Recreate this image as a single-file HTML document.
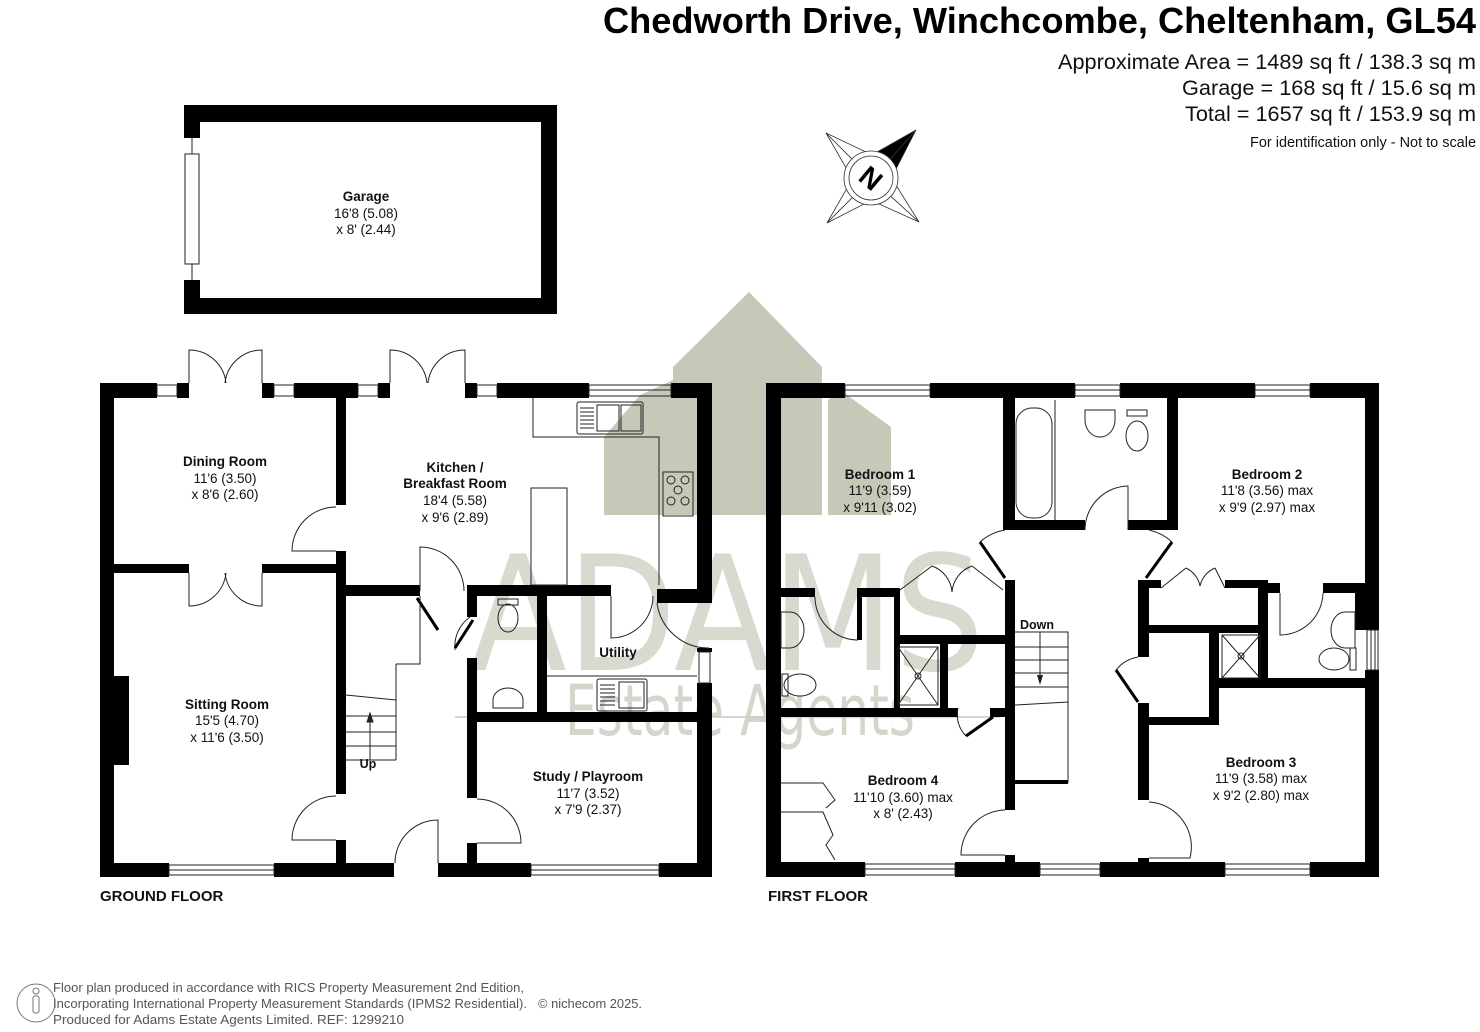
<!DOCTYPE html>
<html><head><meta charset="utf-8"><style>
html,body{margin:0;padding:0;background:#fff;width:1480px;height:1032px;overflow:hidden}
svg{display:block}
text{font-family:"Liberation Sans",Arial,sans-serif}
.l{font-size:13.5px;font-weight:bold;fill:#111;text-anchor:middle}
.d{font-size:13.5px;fill:#111;text-anchor:middle}
.t{fill:none;stroke:#222;stroke-width:1}
</style></head><body>
<svg width="1480" height="1032" viewBox="0 0 1480 1032" xmlns="http://www.w3.org/2000/svg">
<!-- watermark -->
<g fill="#c7c9b8">
<polygon points="673,515 673,367 749,292 822,367 822,515"/>
<polygon points="604,515 604,437 640,395 673,380 673,515"/>
<polygon points="828,515 828,400 840,390 891,427 891,515"/>
</g>
<text x="727" y="670" text-anchor="middle" textLength="515" lengthAdjust="spacingAndGlyphs" style="font-family:'DejaVu Sans',sans-serif;font-size:160px;fill:#d8dad0">ADAMS</text>
<text x="740" y="735" text-anchor="middle" textLength="350" lengthAdjust="spacingAndGlyphs" style="font-family:'DejaVu Sans',sans-serif;font-size:70px;fill:#d4d6cc">Estate Agents</text>
<line x1="455" y1="717" x2="1000" y2="717" stroke="#c9cbc0" stroke-width="1.5"/>

<!-- header -->
<text x="1476" y="33" text-anchor="end" textLength="873" lengthAdjust="spacingAndGlyphs" style="font-size:36px;font-weight:bold;fill:#000">Chedworth Drive, Winchcombe, Cheltenham, GL54</text>
<text x="1476" y="69" text-anchor="end" textLength="418" lengthAdjust="spacingAndGlyphs" style="font-size:21px;fill:#111">Approximate Area = 1489 sq ft / 138.3 sq m</text>
<text x="1476" y="95" text-anchor="end" textLength="294" lengthAdjust="spacingAndGlyphs" style="font-size:21px;fill:#111">Garage = 168 sq ft / 15.6 sq m</text>
<text x="1476" y="121" text-anchor="end" textLength="291" lengthAdjust="spacingAndGlyphs" style="font-size:21px;fill:#111">Total = 1657 sq ft / 153.9 sq m</text>
<text x="1476" y="147" text-anchor="end" textLength="226" lengthAdjust="spacingAndGlyphs" style="font-size:14.5px;fill:#111">For identification only - Not to scale</text>

<!-- compass -->
<g stroke="#333" stroke-width="0.8" fill="#fff">
<polygon points="826,133 858,165 849,173"/><polygon points="826,133 866,152 858,165"/>
<polygon points="827,223 858,192 850,183"/><polygon points="827,223 866,203 858,192"/>
<polygon points="919,222 885,191 894,182"/><polygon points="919,222 877,203 885,191"/>
<polygon points="916,130 885,165 877,152" fill="#000"/><polygon points="916,130 894,173 885,165" fill="#000"/>
<circle cx="871" cy="178" r="27"/><circle cx="871" cy="178" r="22"/>
</g>
<text x="871" y="188" text-anchor="middle" transform="rotate(40 871 178)" style="font-size:28px;font-weight:bold;fill:#000">N</text>

<!-- garage -->
<g fill="#000">
<rect x="184" y="105" width="373" height="17"/><rect x="184" y="298" width="373" height="16"/>
<rect x="541" y="105" width="16" height="209"/>
<rect x="184" y="105" width="16" height="33"/><rect x="184" y="280" width="16" height="34"/>
</g>
<line x1="192" y1="138" x2="192" y2="154" stroke="#222"/><line x1="192" y1="264" x2="192" y2="280" stroke="#222"/>
<rect x="185" y="154" width="14" height="110" class="t"/>
<text x="366" y="201" class="l">Garage</text>
<text x="366" y="218" class="d">16'8 (5.08)</text>
<text x="366" y="234" class="d">x 8' (2.44)</text>

<!-- GROUND FLOOR walls -->
<g fill="#000">
<rect x="100" y="383" width="57" height="15"/><rect x="177" y="383" width="12" height="15"/>
<rect x="262" y="383" width="12" height="15"/><rect x="294" y="383" width="64" height="15"/>
<rect x="378" y="383" width="12" height="15"/><rect x="465" y="383" width="12" height="15"/>
<rect x="497" y="383" width="92" height="15"/><rect x="671" y="383" width="41" height="15"/>
<rect x="100" y="383" width="14" height="494"/>
<rect x="697" y="383" width="15" height="220"/><rect x="697" y="648" width="15" height="4"/><rect x="697" y="683" width="15" height="194"/>
<rect x="100" y="863" width="69" height="14"/><rect x="274" y="863" width="120" height="14"/>
<rect x="438" y="863" width="93" height="14"/><rect x="659" y="863" width="53" height="14"/>
<rect x="336" y="398" width="10" height="107"/><rect x="336" y="551" width="10" height="243"/><rect x="336" y="840" width="10" height="23"/>
<rect x="114" y="564" width="75" height="9"/><rect x="262" y="564" width="74" height="9"/>
<rect x="346" y="585" width="74" height="11"/><rect x="467" y="585" width="144" height="11"/><rect x="657" y="589" width="55" height="14"/>
<rect x="467" y="585" width="10" height="32"/><rect x="467" y="658" width="10" height="140"/><rect x="467" y="843" width="10" height="20"/>
<rect x="537" y="585" width="10" height="130"/>
<rect x="467" y="712" width="245" height="10"/>
<rect x="114" y="676" width="15" height="89"/>
</g>
<!-- ground windows -->
<g class="t">
<rect x="157" y="385" width="20" height="11"/><rect x="274" y="385" width="20" height="11"/>
<rect x="358" y="385" width="20" height="11"/><rect x="477" y="385" width="20" height="11"/>
<rect x="589" y="385" width="82" height="11"/><line x1="589" y1="390" x2="671" y2="390"/>
<rect x="169" y="865" width="105" height="10"/><line x1="169" y1="870" x2="274" y2="870"/>
<rect x="531" y="865" width="128" height="10"/><line x1="531" y1="870" x2="659" y2="870"/>
<rect x="699" y="652" width="11" height="31"/>
</g>
<!-- ground doors -->
<g class="t" stroke-width="1">
<path d="M189,383 V350 A37,37 0 0 1 226,383 M262,383 V350 A37,37 0 0 0 225,383"/>
<path d="M390,383 V350 A37,37 0 0 1 427,383 M465,383 V350 A37,37 0 0 0 428,383"/>
<path d="M189,573 V606 A37,37 0 0 0 226,573 M262,573 V606 A37,37 0 0 1 225,573"/>
<path d="M336,551 H292 A44,44 0 0 1 336,507"/>
<path d="M420,591 V547 A44,44 0 0 1 464,591"/>
<path d="M611,596 V638 A42,42 0 0 0 653,596"/>
<path d="M657,603 A52,52 0 0 0 709,648"/>
<path d="M438,863 V820 A43,43 0 0 0 395,863"/>
<path d="M336,840 H292 A44,44 0 0 1 336,796"/>
<path d="M477,843 H521 A44,44 0 0 0 477,799"/>
<path d="M470,617 A36,36 0 0 0 455,650"/>
</g>
<g stroke="#000" stroke-width="3">
<line x1="455" y1="648" x2="473" y2="620"/><line x1="417" y1="598" x2="438" y2="630"/>
</g>
<!-- stairs ground -->
<g class="t">
<path d="M346,695 L396,700 M346,716 H396 M346,732 H396 M346,746 H396 M346,760 H396 M396,664 V760 M396,664 H420 V596"/>
<line x1="370" y1="760" x2="370" y2="716"/><path d="M367,722 L370,713 L373,722Z" fill="#222"/>
</g>
<text x="368" y="768" class="l" style="font-size:12.5px">Up</text>
<!-- kitchen fittings -->
<g class="t">
<path d="M533,398 V437 H659 V585"/>
<rect x="531" y="488" width="36" height="97"/>
<rect x="577" y="402" width="66" height="32" rx="2"/><rect x="597" y="405" width="22" height="26"/><rect x="621" y="405" width="20" height="26"/>
<path d="M580,408 H594 M580,412 H594 M580,416 H594 M580,420 H594 M580,424 H594 M580,428 H594"/>
<rect x="663" y="472" width="30" height="44"/>
<circle cx="671" cy="480" r="4"/><circle cx="685" cy="480" r="4"/><circle cx="678" cy="490" r="4"/><circle cx="671" cy="501" r="4"/><circle cx="685" cy="501" r="4"/>
<path d="M547,676 H697"/>
<rect x="597" y="679" width="50" height="32" rx="2"/><rect x="619" y="682" width="25" height="26"/>
<path d="M600,685 H615 M600,689 H615 M600,693 H615 M600,697 H615 M600,701 H615 M600,705 H615"/>
<ellipse cx="508" cy="618" rx="10" ry="14"/><rect x="498" y="599" width="20" height="6"/>
<path d="M493,708 V700 A15,12 0 0 1 523,700 V708 Z"/>
</g>
<text x="225" y="466" class="l">Dining Room</text>
<text x="225" y="483" class="d">11'6 (3.50)</text>
<text x="225" y="499" class="d">x 8'6 (2.60)</text>
<text x="455" y="472" class="l">Kitchen /</text>
<text x="455" y="488" class="l">Breakfast Room</text>
<text x="455" y="505" class="d">18'4 (5.58)</text>
<text x="455" y="522" class="d">x 9'6 (2.89)</text>
<text x="227" y="709" class="l">Sitting Room</text>
<text x="227" y="725" class="d">15'5 (4.70)</text>
<text x="227" y="742" class="d">x 11'6 (3.50)</text>
<text x="618" y="657" class="l">Utility</text>
<text x="588" y="781" class="l">Study / Playroom</text>
<text x="588" y="798" class="d">11'7 (3.52)</text>
<text x="588" y="814" class="d">x 7'9 (2.37)</text>
<text x="100" y="901" style="font-size:15px;font-weight:bold;fill:#111">GROUND FLOOR</text>

<!-- FIRST FLOOR walls -->
<g fill="#000">
<rect x="766" y="383" width="79" height="15"/><rect x="930" y="383" width="145" height="15"/>
<rect x="1120" y="383" width="135" height="15"/><rect x="1310" y="383" width="69" height="15"/>
<rect x="766" y="383" width="15" height="494"/>
<rect x="1365" y="383" width="14" height="247"/><rect x="1365" y="670" width="14" height="207"/>
<rect x="1355" y="588" width="12" height="42"/>
<rect x="766" y="862" width="99" height="15"/><rect x="955" y="862" width="85" height="15"/>
<rect x="1100" y="862" width="125" height="15"/><rect x="1310" y="862" width="69" height="15"/>
<rect x="1003" y="398" width="12" height="132"/><rect x="1003" y="520" width="82" height="10"/>
<rect x="1128" y="520" width="50" height="10"/><rect x="1167" y="398" width="11" height="132"/>
<rect x="1005" y="580" width="10" height="230"/><rect x="1005" y="855" width="10" height="22"/>
<rect x="1138" y="580" width="11" height="77"/><rect x="1138" y="703" width="11" height="97"/><rect x="1138" y="858" width="11" height="19"/>
<rect x="781" y="588" width="34" height="9"/><rect x="859" y="588" width="41" height="9"/>
<rect x="857" y="588" width="5" height="52"/>
<rect x="894" y="590" width="6" height="123"/>
<rect x="894" y="635" width="111" height="9"/>
<rect x="940" y="643" width="8" height="74"/>
<rect x="781" y="708" width="177" height="9"/><rect x="990" y="708" width="15" height="9"/>
<rect x="1149" y="580" width="12" height="8"/><rect x="1225" y="580" width="43" height="8"/>
<rect x="1258" y="580" width="10" height="100"/>
<rect x="1258" y="583" width="22" height="10"/><rect x="1323" y="583" width="56" height="10"/>
<rect x="1149" y="625" width="119" height="8"/>
<rect x="1209" y="633" width="10" height="92"/>
<rect x="1209" y="678" width="170" height="10"/>
<rect x="1149" y="717" width="70" height="8"/>
<rect x="1015" y="780" width="53" height="4"/>
</g>
<g class="t">
<rect x="845" y="385" width="85" height="11"/><line x1="845" y1="390" x2="930" y2="390"/>
<rect x="1075" y="385" width="45" height="11"/><line x1="1075" y1="390" x2="1120" y2="390"/>
<rect x="1255" y="385" width="55" height="11"/><line x1="1255" y1="390" x2="1310" y2="390"/>
<rect x="865" y="864" width="90" height="11"/><line x1="865" y1="869" x2="955" y2="869"/>
<rect x="1040" y="864" width="60" height="11"/><line x1="1040" y1="869" x2="1100" y2="869"/>
<rect x="1225" y="864" width="85" height="11"/><line x1="1225" y1="869" x2="1310" y2="869"/>
<rect x="1367" y="630" width="11" height="40"/><path d="M1371,630 V670 M1375,630 V670"/>
<rect x="1016" y="408" width="36" height="110" rx="16"/><line x1="1055" y1="400" x2="1055" y2="520"/>
<path d="M1085,410 H1115 V420 A15,17 0 0 1 1085,420 Z"/>
<ellipse cx="1137" cy="436" rx="11" ry="15"/><rect x="1127" y="410" width="20" height="6"/>
<path d="M1128,530 V486 A44,44 0 0 0 1085,530"/>
<path d="M1005,530 A50,50 0 0 0 980,542"/>
<path d="M1149,530 A50,50 0 0 1 1172,542"/>
<path d="M900,590 L932,566 M972,566 L1003,590 M932,566 A30,30 0 0 1 952,592 M972,566 A30,30 0 0 0 952,592"/>
<path d="M1161,588 L1186,568 M1215,568 L1225,588 M1186,568 A25,25 0 0 1 1200,586 M1215,568 A25,25 0 0 0 1200,586"/>
<path d="M815,597 A43,43 0 0 0 858,640"/>
<path d="M1280,593 V635 A43,43 0 0 0 1323,593"/>
<path d="M1005,855 H961 A45,45 0 0 1 1005,810"/>
<path d="M1149,858 H1190 A45,45 0 0 0 1149,802"/>
<path d="M1138,657 A36,36 0 0 0 1116,670"/>
<path d="M958,708 A30,30 0 0 0 966,736"/>
<path d="M781,612 H790 A14,18 0 0 1 790,648 H781 Z"/>
<ellipse cx="800" cy="685" rx="16" ry="11"/><rect x="782" y="674" width="6" height="22"/>
<rect x="898" y="647" width="40" height="58"/><path d="M898,647 L938,705 M938,647 L898,705"/><circle cx="918" cy="676" r="3"/>
<rect x="1222" y="635" width="38" height="43"/><path d="M1222,635 L1260,678 M1260,635 L1222,678"/><circle cx="1241" cy="656" r="3"/>
<path d="M1355,612 H1345 A14,18 0 0 0 1345,648 H1355 Z"/>
<ellipse cx="1334" cy="659" rx="15" ry="11"/><rect x="1350" y="648" width="6" height="22"/>
<path d="M1015,632 H1068 V783 M1015,647 H1068 M1015,660 H1068 M1015,673 H1068 M1015,687 H1068 M1015,705 L1068,702"/>
<path d="M781,783 H823 L835,800 L826,808 M781,812 H823 L833,835 L826,845 L835,860"/>
</g>
<g stroke="#000" stroke-width="3">
<line x1="980" y1="542" x2="1005" y2="578"/><line x1="1172" y1="542" x2="1146" y2="578"/>
<line x1="1116" y1="670" x2="1138" y2="702"/><line x1="966" y1="736" x2="993" y2="717"/>
</g>
<line x1="1040" y1="632" x2="1040" y2="680" stroke="#222"/><path d="M1037,675 L1040,685 L1043,675Z" fill="#222"/>
<text x="1037" y="629" class="l" style="font-size:12.5px">Down</text>
<text x="880" y="479" class="l">Bedroom 1</text>
<text x="880" y="495" class="d">11'9 (3.59)</text>
<text x="880" y="512" class="d">x 9'11 (3.02)</text>
<text x="1267" y="479" class="l">Bedroom 2</text>
<text x="1267" y="495" class="d">11'8 (3.56) max</text>
<text x="1267" y="512" class="d">x 9'9 (2.97) max</text>
<text x="903" y="785" class="l">Bedroom 4</text>
<text x="903" y="802" class="d">11'10 (3.60) max</text>
<text x="903" y="818" class="d">x 8' (2.43)</text>
<text x="1261" y="767" class="l">Bedroom 3</text>
<text x="1261" y="783" class="d">11'9 (3.58) max</text>
<text x="1261" y="800" class="d">x 9'2 (2.80) max</text>
<text x="768" y="901" style="font-size:15px;font-weight:bold;fill:#111">FIRST FLOOR</text>

<!-- footer -->
<circle cx="36" cy="1003" r="19" fill="none" stroke="#777" stroke-width="1"/>
<circle cx="36" cy="991" r="3" fill="none" stroke="#777"/>
<rect x="33" y="996" width="6" height="17" rx="2" fill="none" stroke="#777"/>
<g style="font-size:13px;fill:#555">
<text x="53" y="992" textLength="471" lengthAdjust="spacingAndGlyphs">Floor plan produced in accordance with RICS Property Measurement 2nd Edition,</text>
<text x="53" y="1008" textLength="474" lengthAdjust="spacingAndGlyphs">Incorporating International Property Measurement Standards (IPMS2 Residential).</text>
<text x="538" y="1008" textLength="104" lengthAdjust="spacingAndGlyphs">© nichecom 2025.</text>
<text x="53" y="1024" textLength="351" lengthAdjust="spacingAndGlyphs">Produced for Adams Estate Agents Limited.   REF: 1299210</text>
</g>
</svg>
</body></html>
